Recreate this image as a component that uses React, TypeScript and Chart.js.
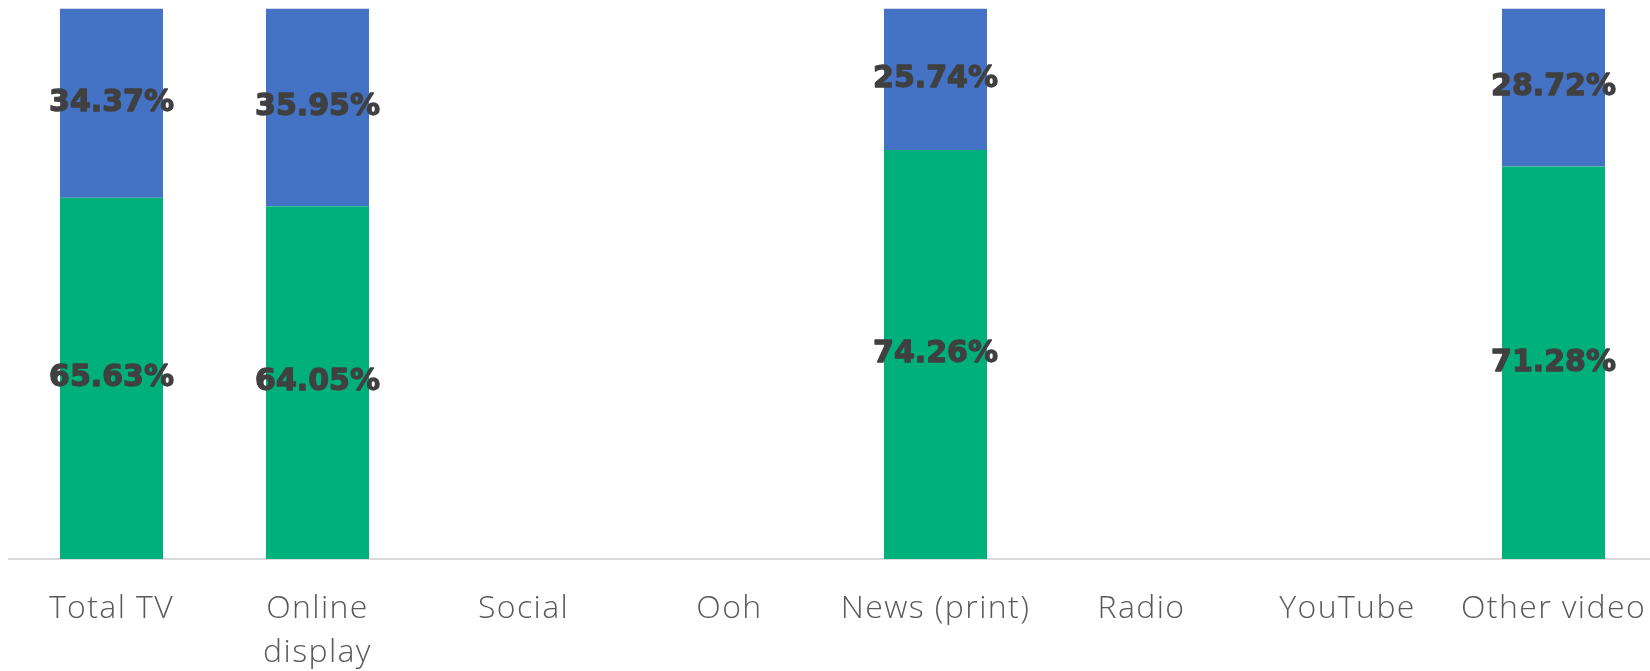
import React, { useEffect, useRef } from "react";
import { Chart, registerables } from "chart.js";

Chart.register(...registerables);

const categories: (string | string[])[] = [
  "Total TV",
  ["Online", "display"],
  "Social",
  "Ooh",
  "News (print)",
  "Radio",
  "YouTube",
  "Other video",
];
const greenValues: (number | null)[] = [65.63, 64.05, null, null, 74.26, null, null, 71.28];
const blueValues: (number | null)[] = [34.37, 35.95, null, null, 25.74, null, null, 28.72];

const GREEN = "#00B07A";
const BLUE = "#4472C4";

const spacingPlugin = {
  id: "letterSpacing",
  beforeDraw(chart: any) {
    (chart.ctx as any).letterSpacing = "1.4px";
  },
};

const labelPlugin = {
  id: "segLabels",
  afterDatasetsDraw(chart: any) {
    const ctx = chart.ctx;
    ctx.save();
    (ctx as any).letterSpacing = "0px";
    ctx.font = "bold 30px 'DejaVu Sans'";
    ctx.fillStyle = "#404040";
    ctx.strokeStyle = "#404040";
    ctx.lineWidth = 1.3;
    ctx.lineJoin = "round";
    ctx.textAlign = "center";
    ctx.textBaseline = "middle";
    chart.data.datasets.forEach((ds: any, di: number) => {
      const meta = chart.getDatasetMeta(di);
      meta.data.forEach((el: any, i: number) => {
        const v = ds.data[i];
        if (v === null || v === undefined) return;
        const { x, y, base } = el.getProps(["x", "y", "base"], true);
        const t = v.toFixed(2) + "%";
        ctx.fillText(t, x, (y + base) / 2);
        ctx.strokeText(t, x, (y + base) / 2);
      });
    });
    ctx.restore();
  },
};

export default function App() {
  const ref = useRef<HTMLCanvasElement>(null);
  useEffect(() => {
    if (!ref.current) return;
    const chart = new Chart(ref.current, {
      type: "bar",
      data: {
        labels: categories,
        datasets: [
          { label: "A", data: greenValues, backgroundColor: GREEN, borderWidth: 0 },
          { label: "B", data: blueValues, backgroundColor: BLUE, borderWidth: 0 },
        ],
      },
      options: {
        responsive: false,
        animation: false,
        devicePixelRatio: 1,
        layout: { padding: { left: 8.5, right: 8.5, top: 8.4, bottom: 0 } },
        plugins: { legend: { display: false }, tooltip: { enabled: false } },
        datasets: { bar: { barPercentage: 1, categoryPercentage: 0.5 } },
        scales: {
          x: {
            stacked: true,
            grid: { display: false, drawTicks: false },
            border: { display: true, color: "#d9d9d9", width: 2 },
            ticks: {
              padding: 28,
              color: "#595959",
              maxRotation: 0,
              autoSkip: false,
              font: { family: "'Open Sans'", size: 32, weight: "300", lineHeight: 1.375 },
            },
            afterFit: (scale: any) => {
              scale.height = 112;
              scale.paddingLeft = 0;
              scale.paddingRight = 0;
            },
          },
          y: {
            stacked: true,
            display: false,
            min: 0,
            max: 100,
          },
        },
      },
      plugins: [spacingPlugin, labelPlugin],
    } as any);
    return () => chart.destroy();
  }, []);
  return (
    <div style={{ position: "fixed", left: 0, top: 0, width: 1650, height: 671, overflow: "hidden", background: "#fff" }}>
      <canvas ref={ref} width={1665} height={671} style={{ width: 1665, height: 671, display: "block" }} />
    </div>
  );
}
